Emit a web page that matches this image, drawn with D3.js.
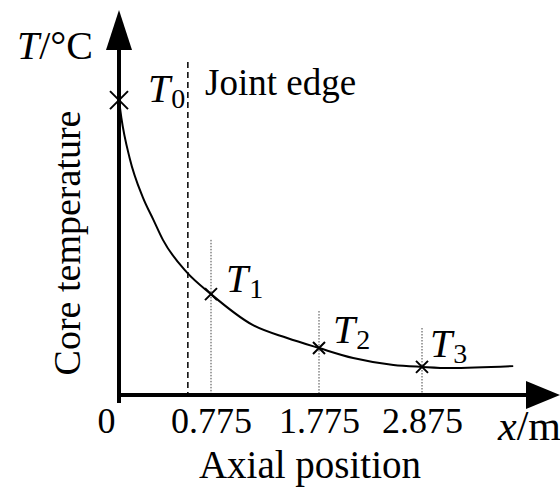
<!DOCTYPE html>
<html lang='en'>
<head>
  <meta charset='UTF-8'>
  <title>Core temperature</title>
  <script src="https://cdn.jsdelivr.net/npm/d3@7"></script>
  <style>
    body { margin: 0; background: #fff; }
    svg { display: block; }
    svg text { font-family: 'Liberation Serif', 'Times New Roman', serif; fill: #000; }
  </style>
</head>
<body>
  <div id="chart"></div>
  <script>
    // axial position (m) / core temperature (schematic units)
    const curveX = [0, 0.02, 0.09, 0.2, 0.29, 0.37, 0.57, 0.775, 1.16, 1.48, 1.775, 2.14, 2.57, 2.875, 3.17, 3.85];
    const curveT = [76.6, 72.0, 61.5, 51.4, 45.5, 40.3, 31.9, 26.2, 18.2, 14.8, 12.2, 9.6, 7.8, 7.3, 7.0, 7.5];

    // measuring points T0..T3
    const pointNames = ['0', '1', '2', '3'];
    const pointX = [0, 0.775, 1.775, 2.875];
    const pointT = [76.6, 26.2, 12.2, 7.3];
    const guideTop = [null, 40.3, 21.8, 17.4];

    const tickValues = [0, 0.775, 1.775, 2.875];
    const tickLabels = ['0', '0.775', '1.775', '2.875'];

    const jointX = 0.58;
    const jointTop = 86.5;

    const FONT = "'Liberation Serif', 'Times New Roman', serif";
    const W = 560, H = 487;
    const svg = d3.select('#chart').append('svg')
      .attr('width', W)
      .attr('height', H);

    // schematic axis, not to scale
    const xScale = d3.scaleLinear()
      .domain([0, 0.775, 1.775, 2.875, 4.35])
      .range([119, 211, 319, 422, 560]);
    const yScale = d3.scaleLinear()
      .domain([0, 100])
      .range([395, 10]);

    const x0 = xScale(0), y0 = yScale(0);
    const xEnd = xScale.range()[4], yEnd = yScale(100);

    // guide lines
    svg.append('line')
      .attr('x1', xScale(jointX)).attr('x2', xScale(jointX))
      .attr('y1', yScale(jointTop)).attr('y2', y0)
      .attr('stroke', '#000').attr('stroke-width', 1.5)
      .attr('stroke-dasharray', '6,4');

    svg.selectAll('.guide')
      .data(pointX.map((d, i) => ({ x: d, top: guideTop[i] })).filter((d) => d.top !== null))
      .join('line')
      .attr('class', 'guide')
      .attr('x1', (d) => xScale(d.x)).attr('x2', (d) => xScale(d.x))
      .attr('y1', (d) => yScale(d.top)).attr('y2', y0)
      .attr('stroke', '#444').attr('stroke-width', 1)
      .attr('stroke-dasharray', '1.5,1.5');

    // curve
    const line = d3.line()
      .curve(d3.curveMonotoneX)
      .x((d, i) => xScale(curveX[i]))
      .y((d) => yScale(d));
    svg.append('path')
      .datum(curveT)
      .attr('fill', 'none')
      .attr('stroke', '#000')
      .attr('stroke-width', 2)
      .attr('d', line);

    // axes
    svg.append('line')
      .attr('x1', x0).attr('x2', x0)
      .attr('y1', y0 + 8).attr('y2', yEnd + 38)
      .attr('stroke', '#000').attr('stroke-width', 4);
    svg.append('path')
      .attr('d', `M${x0},${yEnd} L${x0 - 13},${yEnd + 40} L${x0 + 13},${yEnd + 40} Z`)
      .attr('fill', '#000');

    svg.append('line')
      .attr('x1', x0 - 2).attr('x2', xEnd - 32)
      .attr('y1', y0).attr('y2', y0)
      .attr('stroke', '#000').attr('stroke-width', 4);
    svg.append('path')
      .attr('d', `M${xEnd},${y0} L${xEnd - 34},${y0 - 14} L${xEnd - 34},${y0 + 14} Z`)
      .attr('fill', '#000');

    const xAxis = d3.axisBottom(xScale)
      .tickValues(tickValues)
      .tickSize(0)
      .tickPadding(12)
      .tickFormat((d, i) => tickLabels[i]);
    const gx = svg.append('g')
      .attr('transform', `translate(0, ${y0})`)
      .call(xAxis)
      .attr('font-family', FONT);
    gx.select('.domain').remove();
    gx.selectAll('text')
      .attr('font-family', FONT)
      .attr('font-size', 36)
      .attr('fill', '#000');
    gx.selectAll('.tick').filter((d) => d === 0).select('text')
      .attr('text-anchor', 'end')
      .attr('x', -4);

    // markers
    svg.selectAll('.mark')
      .data(pointX.map((d, i) => ({ x: d, t: pointT[i], s: i === 0 ? 9 : 6 })))
      .join('path')
      .attr('class', 'mark')
      .attr('d', (d) => {
        const cx = xScale(d.x), cy = yScale(d.t);
        return `M${cx - d.s},${cy - d.s}L${cx + d.s},${cy + d.s}M${cx - d.s},${cy + d.s}L${cx + d.s},${cy - d.s}`;
      })
      .attr('stroke', '#000')
      .attr('stroke-width', 2);

    // point labels
    const labelOffset = [[29, 2], [15, -2], [14, -5], [8, -10]];
    const lab = svg.selectAll('.plabel')
      .data(pointNames)
      .join('text')
      .attr('class', 'plabel')
      .attr('font-family', FONT)
      .attr('x', (d, i) => xScale(pointX[i]) + labelOffset[i][0])
      .attr('y', (d, i) => yScale(pointT[i]) + labelOffset[i][1])
      .attr('font-size', 40);
    lab.append('tspan').attr('font-style', 'italic').text('T');
    lab.append('tspan').attr('font-size', 28).attr('dy', 6).attr('dx', 1).text((d) => d);

    // titles
    const yt = svg.append('text')
      .attr('font-family', FONT)
      .attr('x', 17).attr('y', 59)
      .attr('font-size', 40);
    yt.append('tspan').attr('font-style', 'italic').text('T');
    yt.append('tspan').text('/°C');

    svg.append('text')
      .attr('font-family', FONT)
      .attr('transform', 'translate(80, 243) rotate(-90)')
      .attr('text-anchor', 'middle')
      .attr('font-size', 38)
      .text('Core temperature');

    svg.append('text')
      .attr('font-family', FONT)
      .attr('x', 205).attr('y', 95)
      .attr('font-size', 37)
      .text('Joint edge');

    svg.append('text')
      .attr('font-family', FONT)
      .attr('x', 310).attr('y', 478)
      .attr('text-anchor', 'middle')
      .attr('font-size', 39)
      .text('Axial position');

    const xt = svg.append('text')
      .attr('font-family', FONT)
      .attr('x', W + 1).attr('y', 440)
      .attr('text-anchor', 'end')
      .attr('font-size', 42);
    xt.append('tspan').attr('font-style', 'italic').text('x');
    xt.append('tspan').text('/m');
  </script>
</body>
</html>
